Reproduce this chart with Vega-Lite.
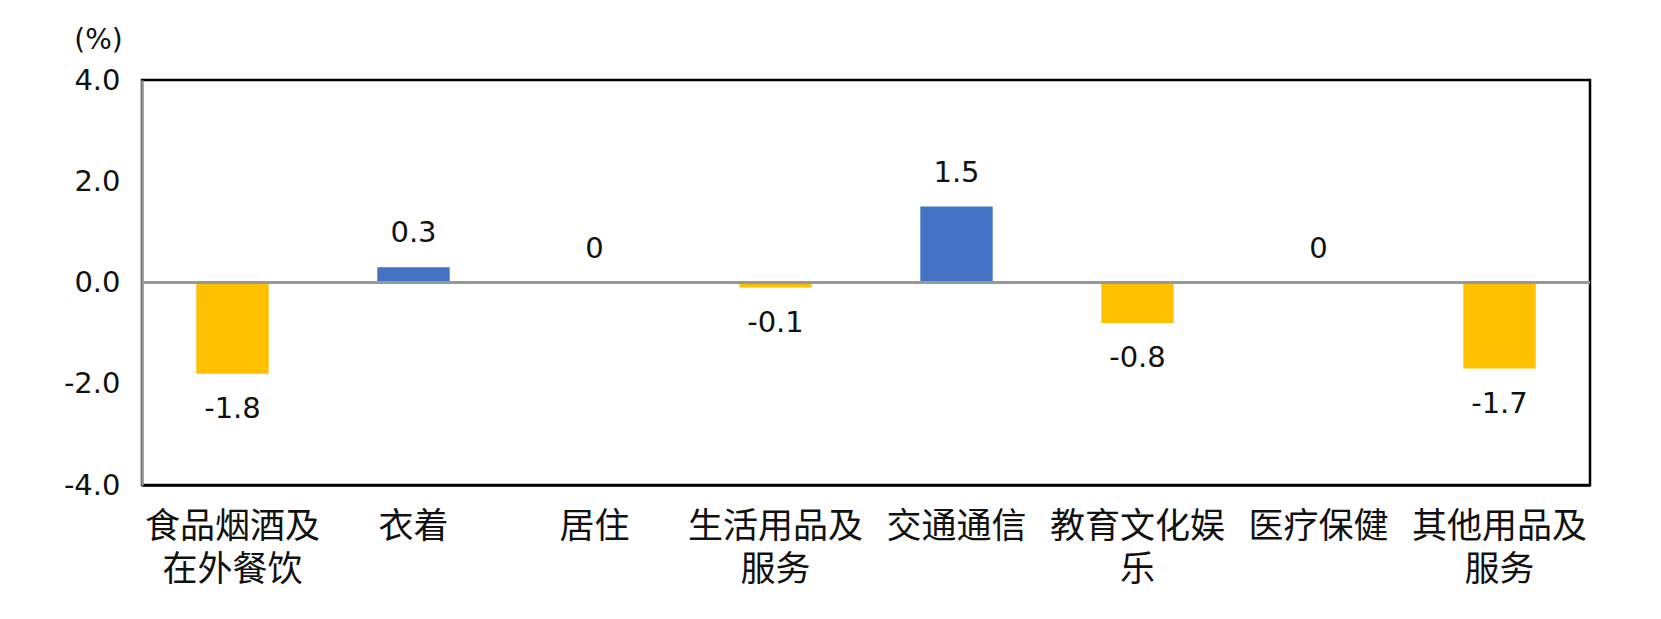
{
  "$schema": "https://vega.github.io/schema/vega-lite/v6.json",
  "autosize": {"type": "none"},
  "padding": {"left": 142, "top": 80, "right": 71, "bottom": 134},
  "width": 1448,
  "height": 405,
  "background": "white",
  "config": {
    "view": {"stroke": "black", "strokeWidth": 2.5},
    "font": "DejaVu Sans"
  },
  "data": {
    "values": [
      {"category": "食品烟酒及|在外餐饮", "value": -1.8},
      {"category": "衣着", "value": 0.3},
      {"category": "居住", "value": 0},
      {"category": "生活用品及|服务", "value": -0.1},
      {"category": "交通通信", "value": 1.5},
      {"category": "教育文化娱|乐", "value": -0.8},
      {"category": "医疗保健", "value": 0},
      {"category": "其他用品及|服务", "value": -1.7}
    ]
  },
  "encoding": {
    "x": {
      "field": "category",
      "type": "nominal",
      "sort": null,
      "scale": {"paddingInner": 0.6, "paddingOuter": 0.3},
      "axis": {
        "title": null,
        "labelAngle": 0,
        "labelExpr": "split(datum.value, '|')",
        "labelFont": "Noto Sans CJK SC",
        "labelFontSize": 35,
        "labelLineHeight": 43,
        "labelColor": "#111",
        "labelPadding": 24,
        "labelBaseline": "top",
        "ticks": false,
        "domainColor": "black",
        "domainWidth": 2.5
      }
    }
  },
  "layer": [
    {
      "mark": {"type": "bar"},
      "encoding": {
        "y": {
          "field": "value",
          "type": "quantitative",
          "scale": {"domain": [-4, 4], "nice": false},
          "axis": {
            "values": [-4, -2, 0, 2, 4],
            "format": ".1f",
            "labelExpr": "replace(datum.label, '−', '-')",
            "grid": false,
            "ticks": false,
            "labelFontSize": 29,
            "labelColor": "#111",
            "labelPadding": 22,
            "domainColor": "#999",
            "domainWidth": 2.5,
            "title": "(%)",
            "titleAngle": 0,
            "titleX": -44,
            "titleY": -40,
            "titleAlign": "center",
            "titleBaseline": "middle",
            "titleFontSize": 28,
            "titleFontWeight": "normal",
            "titleColor": "#111"
          }
        },
        "color": {
          "condition": {"test": "datum.value > 0", "value": "#4472C4"},
          "value": "#FFC000"
        }
      }
    },
    {
      "mark": {"type": "rule", "color": "#999", "strokeWidth": 2.5},
      "encoding": {"y": {"datum": 0, "type": "quantitative"}, "x": {"value": 0}, "x2": {"value": 1448}}
    },
    {
      "transform": [{"filter": "datum.value >= 0"}],
      "mark": {"type": "text", "fontSize": 29, "color": "#111", "baseline": "middle", "dy": -34},
      "encoding": {
        "y": {"field": "value", "type": "quantitative"},
        "text": {"field": "value", "type": "nominal"}
      }
    },
    {
      "transform": [{"filter": "datum.value < 0"}],
      "mark": {"type": "text", "fontSize": 29, "color": "#111", "baseline": "middle", "dy": 35},
      "encoding": {
        "y": {"field": "value", "type": "quantitative"},
        "text": {"field": "value", "type": "nominal"}
      }
    }
  ]
}
